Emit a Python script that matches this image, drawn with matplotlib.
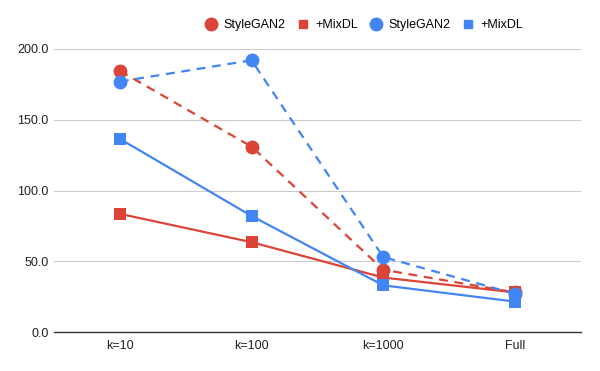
import numpy as np
import matplotlib
matplotlib.use('Agg')
import matplotlib.pyplot as plt
from matplotlib.lines import Line2D

# data
categories = ['k=10', 'k=100', 'k=1000', 'Full']
red_stylegan2 = [184.5, 131.0, 44.0, 28.0]
red_mixdl = [83.5, 63.5, 38.5, 28.0]
blue_stylegan2 = [177.0, 192.0, 53.0, 27.0]
blue_mixdl = [136.5, 82.0, 33.0, 21.5]
legend_labels = ['StyleGAN2', '+MixDL', 'StyleGAN2', '+MixDL']
yticks = [0, 50, 100, 150, 200]

RED = '#db4437'
BLUE = '#4285f4'

plt.rcParams['font.family'] = ['Liberation Sans', 'DejaVu Sans']

fig = plt.figure(figsize=(6, 3.71), dpi=100)
ax = fig.add_axes([0.09, 0.105, 0.878, 0.763])

x = np.arange(len(categories))
series = [
    (red_stylegan2, RED, '--', 'o', 10),
    (red_mixdl, RED, '-', 's', 8.5),
    (blue_stylegan2, BLUE, '--', 'o', 10),
    (blue_mixdl, BLUE, '-', 's', 8.5),
]
for vals, col, ls, mk, ms in series:
    ax.plot(x, vals, color=col, linestyle=ls, linewidth=1.6,
            dashes=(4, 3) if ls == '--' else (None, None),
            marker=mk, markersize=ms, markeredgewidth=0, clip_on=False)

ax.set_xlim(-0.5, len(categories) - 0.5)
ax.set_ylim(0, 200)
ax.set_xticks(x)
ax.set_xticklabels(categories)
ax.set_yticks(yticks)
ax.set_yticklabels(['%.1f' % v for v in yticks])
ax.tick_params(axis='y', length=0, labelsize=9, colors='#222222', pad=4)
ax.tick_params(axis='x', length=0, labelsize=9, colors='#222222', pad=6)
ax.grid(axis='y', color='#cccccc', linewidth=0.8)
ax.set_axisbelow(True)
for s in ['top', 'right', 'left']:
    ax.spines[s].set_visible(False)
ax.spines['bottom'].set_color('#333333')
ax.spines['bottom'].set_linewidth(1.0)
ax.spines['bottom'].set_zorder(0.5)

handles = [
    Line2D([], [], color=RED, marker='o', linestyle='none', markersize=9),
    Line2D([], [], color=RED, marker='s', linestyle='none', markersize=6),
    Line2D([], [], color=BLUE, marker='o', linestyle='none', markersize=9),
    Line2D([], [], color=BLUE, marker='s', linestyle='none', markersize=6),
]
fig.legend(handles, legend_labels, loc='center', bbox_to_anchor=(0.605, 0.932),
           ncol=4, frameon=False, fontsize=9, handletextpad=0.4,
           columnspacing=0.8, handlelength=1.2)

fig.savefig('out.png', dpi=100)
